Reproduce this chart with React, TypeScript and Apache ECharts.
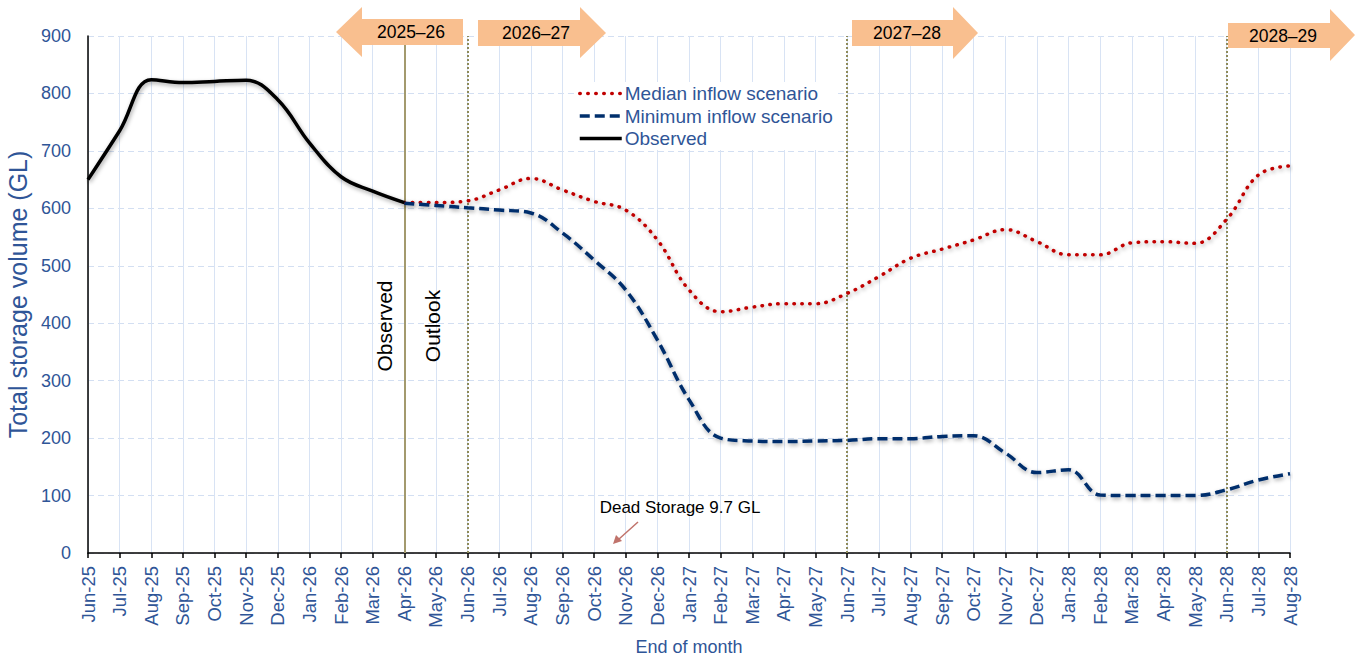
import React, { useEffect, useRef } from "react";
import * as echarts from "echarts";

const months: string[] = [
  "Jun-25", "Jul-25", "Aug-25", "Sep-25", "Oct-25", "Nov-25", "Dec-25", "Jan-26", "Feb-26", "Mar-26",
  "Apr-26", "May-26", "Jun-26", "Jul-26", "Aug-26", "Sep-26", "Oct-26", "Nov-26", "Dec-26", "Jan-27",
  "Feb-27", "Mar-27", "Apr-27", "May-27", "Jun-27", "Jul-27", "Aug-27", "Sep-27", "Oct-27", "Nov-27",
  "Dec-27", "Jan-28", "Feb-28", "Mar-28", "Apr-28", "May-28", "Jun-28", "Jul-28", "Aug-28",
];

const observed: (number | null)[] = [
  650, 735, 824, 819, 821, 823, 789, 714, 655, 630, 610,
];

const medianFrom: (number | null)[] = [
  610, 610, 613, 632, 652, 632, 612, 597, 545, 458,
  420, 428, 434, 434, 452, 481, 513, 529, 545, 563,
  542, 519, 519, 540, 542, 539, 581, 658, 674,
];

const minimumFrom: (number | null)[] = [
  609, 605, 601, 597, 592, 557, 510, 458, 371, 267,
  200, 195, 194, 195, 196, 199, 199, 203, 204, 174,
  140, 145, 101, 100, 100, 100, 110, 127, 138,
];

const deadStorageValue = 9.7;
const yearBoundaries: string[] = ["Jun-26", "Jun-27", "Jun-28"];
const observedEnd = "Apr-26";

const pad = (arr: (number | null)[], offset: number) => {
  const out: (number | null)[] = [];
  for (let i = 0; i < months.length; i++) {
    const j = i - offset;
    out.push(j >= 0 && j < arr.length ? arr[j] : null);
  }
  return out;
};

const BLUE = "#2F5597";
const FONT = "Arial, 'Liberation Sans', sans-serif";
const ARROW = "#F9BF8F";

export default function App() {
  const ref = useRef<HTMLDivElement>(null);
  useEffect(() => {
    if (!ref.current) return;
    const chart = echarts.init(ref.current, null, { renderer: "svg" });
    const startIdx = months.indexOf(observedEnd);
    const shadow = {
      shadowColor: "rgba(0,0,0,0.35)",
      shadowBlur: 4,
      shadowOffsetX: 1,
      shadowOffsetY: 2,
    };
    const arrowText = (x: number, y: number, t: string) => ({
      type: "text",
      x,
      y,
      style: { text: t, fill: "#000", font: `17.5px ${FONT}`, align: "center", verticalAlign: "middle" },
      z: 101,
    });
    chart.setOption({
      animation: false,
      backgroundColor: "#fff",
      textStyle: { fontFamily: FONT },
      grid: { left: 88, right: 70, top: 36, bottom: 108, containLabel: false, outerBoundsMode: "none" },
      legend: {
        data: ["Median inflow scenario", "Minimum inflow scenario", "Observed"],
        orient: "vertical",
        left: 574,
        top: 82,
        itemWidth: 42,
        itemHeight: 14,
        itemGap: 3.5,
        padding: [2, 4, 2, 4],
        backgroundColor: "#fff",
        itemStyle: { opacity: 0 },
        lineStyle: { width: 3.5 },
        textStyle: { color: BLUE, fontSize: 19, fontFamily: FONT, padding: [0, 0, 0, -2] },
      },
      xAxis: {
        type: "category",
        data: months,
        boundaryGap: false,
        name: "End of month",
        nameLocation: "middle",
        nameGap: 94,
        nameTextStyle: { color: BLUE, fontSize: 18, fontFamily: FONT, verticalAlign: "middle" },
        axisLine: { show: true, lineStyle: { color: "#000", width: 1.5 } },
        axisTick: { show: true, alignWithLabel: true, length: 5, lineStyle: { color: "#000", width: 1.5 } },
        axisLabel: { rotate: 90, color: BLUE, fontSize: 18.5, fontFamily: FONT, margin: 13, interval: 0 },
        splitLine: { show: true, lineStyle: { color: "#D8E3F4", width: 1 } },
      },
      yAxis: {
        type: "value",
        min: 0,
        max: 900,
        interval: 100,
        name: "Total storage volume (GL)",
        nameLocation: "middle",
        nameGap: 63,
        nameTextStyle: { color: BLUE, fontSize: 25, fontFamily: FONT, verticalAlign: "middle" },
        axisLine: { show: true, lineStyle: { color: "#000", width: 1.5 } },
        axisTick: { show: false },
        axisLabel: { color: BLUE, fontSize: 18, fontFamily: FONT, margin: 17 },
        splitLine: { show: true, lineStyle: { color: "#D3DFF2", width: 1, type: [6, 4] } },
      },
      series: [
        {
          name: "Dead Storage",
          type: "line",
          data: months.map(() => deadStorageValue),
          symbol: "none",
          silent: true,
          lineStyle: { color: "#57532F", width: 2.8, type: [6, 3.5], shadowColor: "rgba(0,0,0,0.3)", shadowBlur: 3, shadowOffsetY: 3 },
          z: 3,
          markLine: {
            silent: true,
            symbol: "none",
            label: { show: false },
            data: [
              { xAxis: observedEnd, lineStyle: { color: "#A39A6E", width: 2, type: "solid" } },
              ...yearBoundaries.map((m) => ({
                xAxis: m,
                lineStyle: { color: "#8E8A5A", width: 2, type: [2, 2] },
              })),
            ],
          },
        },
        {
          name: "Median inflow scenario",
          type: "line",
          data: pad(medianFrom, startIdx),
          smooth: 0.4,
          symbol: "none",
          lineStyle: { color: "#C00000", width: 3.5, type: [0.5, 7.5], cap: "round", ...shadow },
          itemStyle: { color: "#C00000" },
          z: 5,
        },
        {
          name: "Minimum inflow scenario",
          type: "line",
          data: pad(minimumFrom, startIdx),
          smooth: 0.4,
          symbol: "none",
          lineStyle: { color: "#002F6C", width: 3.5, type: [10, 5], ...shadow },
          itemStyle: { color: "#002F6C" },
          z: 6,
        },
        {
          name: "Observed",
          type: "line",
          data: pad(observed, 0),
          smooth: 0.4,
          symbol: "none",
          lineStyle: { color: "#000", width: 3.5, type: "solid", ...shadow },
          itemStyle: { color: "#000" },
          z: 7,
        },
      ],
      graphic: [
        {
          type: "polygon",
          shape: { points: [[336, 32], [362, 7], [362, 19], [463, 19], [463, 45], [362, 45], [362, 57]] },
          style: { fill: ARROW },
          z: 100,
        },
        arrowText(411, 32, "2025–26"),
        {
          type: "polygon",
          shape: { points: [[478, 20], [580, 20], [580, 7], [606, 33], [580, 58], [580, 46], [478, 46]] },
          style: { fill: ARROW },
          z: 100,
        },
        arrowText(536, 33, "2026–27"),
        {
          type: "polygon",
          shape: { points: [[852, 20], [953, 20], [953, 7], [978, 33], [953, 59], [953, 46], [852, 46]] },
          style: { fill: ARROW },
          z: 100,
        },
        arrowText(907, 33, "2027–28"),
        {
          type: "polygon",
          shape: { points: [[1228, 23], [1330, 23], [1330, 9], [1355, 35], [1330, 61], [1330, 48], [1228, 48]] },
          style: { fill: ARROW },
          z: 100,
        },
        arrowText(1283, 36, "2028–29"),
        {
          type: "text",
          x: 384,
          y: 326,
          rotation: Math.PI / 2,
          style: { text: "Observed", fill: "#000", font: `21px ${FONT}`, align: "center", verticalAlign: "middle" },
          z: 50,
        },
        {
          type: "text",
          x: 432,
          y: 326,
          rotation: Math.PI / 2,
          style: { text: "Outlook", fill: "#000", font: `21px ${FONT}`, align: "center", verticalAlign: "middle" },
          z: 50,
        },
        {
          type: "text",
          x: 680,
          y: 507,
          style: { text: "Dead Storage 9.7 GL", fill: "#000", font: `17px ${FONT}`, align: "center", verticalAlign: "middle" },
          z: 50,
        },
        {
          type: "line",
          shape: { x1: 638, y1: 522, x2: 619, y2: 539 },
          style: { stroke: "#C0736B", lineWidth: 1.5 },
          z: 50,
        },
        {
          type: "polygon",
          shape: { points: [[613, 544], [616, 535], [622, 541]] },
          style: { fill: "#C0736B" },
          z: 50,
        },
      ],
    });
    return () => chart.dispose();
  }, []);
  return <div ref={ref} style={{ width: 1360, height: 661, position: "absolute", left: 0, top: 0 }} />;
}
